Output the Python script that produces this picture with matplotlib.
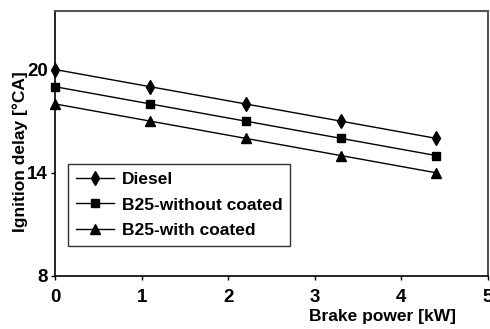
import matplotlib
matplotlib.use("Agg")
import matplotlib.pyplot as plt

# data
brake_power = [0, 1.1, 2.2, 3.3, 4.4]
diesel = [20, 19, 18, 17, 16]
b25_without = [19, 18, 17, 16, 15]
b25_with = [18, 17, 16, 15, 14]

x_ticks = [0, 1, 2, 3, 4, 5]
y_ticks = [8, 14, 20]

plt.rcParams["font.family"] = ["Liberation Sans", "DejaVu Sans"]
plt.rcParams["font.weight"] = "bold"

fig = plt.figure(figsize=(4.9, 3.29), dpi=100)
ax = fig.add_axes([55 / 490, 1 - 276 / 329, 433 / 490, 265 / 329])

series = [
    (diesel, "d", 7, "Diesel"),
    (b25_without, "s", 6, "B25-without coated"),
    (b25_with, "^", 7, "B25-with coated"),
]
for values, marker, size, label in series:
    ax.plot(brake_power, values, color="black", linewidth=1.0,
            marker=marker, markersize=size, label=label, clip_on=False)

ax.set_xlim(0, 5)
ax.set_ylim(8, 23.4)
ax.set_xticks(x_ticks)
ax.set_yticks(y_ticks)
ax.tick_params(direction="out", length=3, width=1, labelsize=13.5)
ax.tick_params(axis="x", pad=6)
ax.tick_params(axis="y", pad=2)
for lbl in ax.get_xticklabels() + ax.get_yticklabels():
    lbl.set_fontweight("bold")

for side in ["left", "bottom"]:
    ax.spines[side].set_color("black")
    ax.spines[side].set_linewidth(1.2)
for side in ["top", "right"]:
    ax.spines[side].set_color("#555555")
    ax.spines[side].set_linewidth(1.5)

ax.set_xlabel("Brake power [kW]", fontsize=12.5, fontweight="bold")
ax.xaxis.set_label_coords(327 / 433, -33 / 265)
ax.set_ylabel("Ignition delay [°CA]", fontsize=12.5, fontweight="bold")
ax.yaxis.set_label_coords(-27 / 433, 0.47)

leg = ax.legend(loc="upper left", bbox_to_anchor=(13 / 433, 1 - 153 / 265),
                frameon=True, fancybox=False, edgecolor="black",
                prop={"size": 12.5, "weight": "bold"}, handlelength=2.2,
                borderpad=0.45, labelspacing=0.6, handletextpad=0.45,
                borderaxespad=0)
leg.get_frame().set_linewidth(1.0)

fig.savefig("out.png", dpi=100)
